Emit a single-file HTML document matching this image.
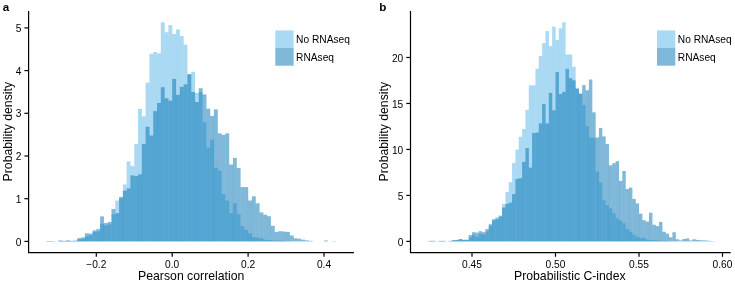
<!DOCTYPE html>
<html><head><meta charset="utf-8"><title>Histograms</title>
<style>html,body{margin:0;padding:0;background:#fff}body{width:735px;height:283px;overflow:hidden}</style></head>
<body>
<svg width="735" height="283" viewBox="0 0 735 283" style="will-change:transform;display:block;font-family:'Liberation Sans',sans-serif">
<rect width="735" height="283" fill="#fff"/>
<g fill="#56B4E9" fill-opacity="0.5">
<rect x="46.96" y="241.0" width="3.880" height="0.4"/>
<rect x="50.76" y="241.1" width="3.880" height="0.3"/>
<rect x="58.35" y="240.9" width="3.880" height="0.5"/>
<rect x="62.14" y="240.9" width="3.880" height="0.5"/>
<rect x="65.94" y="240.9" width="3.880" height="0.5"/>
<rect x="69.73" y="240.9" width="3.880" height="0.5"/>
<rect x="73.53" y="240.7" width="3.880" height="0.7"/>
<rect x="77.32" y="239.4" width="3.880" height="2.0"/>
<rect x="81.12" y="238.9" width="3.880" height="2.5"/>
<rect x="84.91" y="236.4" width="3.880" height="5.0"/>
<rect x="88.71" y="235.4" width="3.880" height="6.0"/>
<rect x="92.50" y="231.9" width="3.880" height="9.5"/>
<rect x="96.30" y="231.4" width="3.880" height="10.0"/>
<rect x="100.09" y="223.9" width="3.880" height="17.5"/>
<rect x="103.89" y="225.4" width="3.880" height="16.0"/>
<rect x="107.68" y="224.4" width="3.880" height="17.0"/>
<rect x="111.48" y="214.4" width="3.880" height="27.0"/>
<rect x="115.27" y="200.5" width="3.880" height="40.9"/>
<rect x="119.07" y="198.4" width="3.880" height="43.0"/>
<rect x="122.86" y="184.4" width="3.880" height="57.0"/>
<rect x="126.66" y="161.4" width="3.880" height="80.0"/>
<rect x="130.45" y="165.9" width="3.880" height="75.5"/>
<rect x="134.25" y="143.9" width="3.880" height="97.5"/>
<rect x="138.04" y="108.9" width="3.880" height="132.5"/>
<rect x="141.84" y="116.3" width="3.880" height="125.1"/>
<rect x="145.63" y="82.7" width="3.880" height="158.7"/>
<rect x="149.43" y="53.8" width="3.880" height="187.6"/>
<rect x="153.22" y="52.0" width="3.880" height="189.4"/>
<rect x="157.02" y="53.4" width="3.880" height="188.0"/>
<rect x="160.81" y="22.3" width="3.880" height="219.1"/>
<rect x="164.61" y="32.2" width="3.880" height="209.2"/>
<rect x="168.41" y="25.1" width="3.880" height="216.3"/>
<rect x="172.20" y="34.0" width="3.880" height="207.4"/>
<rect x="175.99" y="29.5" width="3.880" height="211.9"/>
<rect x="179.79" y="36.1" width="3.880" height="205.3"/>
<rect x="183.58" y="44.6" width="3.880" height="196.8"/>
<rect x="187.38" y="74.4" width="3.880" height="167.0"/>
<rect x="191.17" y="71.8" width="3.880" height="169.6"/>
<rect x="194.97" y="93.0" width="3.880" height="148.4"/>
<rect x="198.76" y="92.0" width="3.880" height="149.4"/>
<rect x="202.56" y="122.1" width="3.880" height="119.3"/>
<rect x="206.35" y="147.5" width="3.880" height="93.9"/>
<rect x="210.15" y="139.7" width="3.880" height="101.7"/>
<rect x="213.94" y="167.6" width="3.880" height="73.8"/>
<rect x="217.74" y="170.5" width="3.880" height="70.9"/>
<rect x="221.53" y="194.1" width="3.880" height="47.3"/>
<rect x="225.33" y="200.5" width="3.880" height="40.9"/>
<rect x="229.12" y="213.2" width="3.880" height="28.2"/>
<rect x="232.92" y="203.3" width="3.880" height="38.1"/>
<rect x="236.71" y="214.1" width="3.880" height="27.3"/>
<rect x="240.51" y="226.1" width="3.880" height="15.3"/>
<rect x="244.31" y="229.8" width="3.880" height="11.6"/>
<rect x="248.10" y="233.3" width="3.880" height="8.1"/>
<rect x="251.89" y="236.9" width="3.880" height="4.5"/>
<rect x="255.69" y="237.6" width="3.880" height="3.8"/>
<rect x="259.49" y="238.3" width="3.880" height="3.1"/>
<rect x="263.28" y="239.7" width="3.880" height="1.7"/>
<rect x="267.07" y="240.0" width="3.880" height="1.4"/>
<rect x="270.87" y="240.4" width="3.880" height="1.0"/>
<rect x="274.66" y="240.7" width="3.880" height="0.7"/>
<rect x="278.46" y="240.4" width="3.880" height="1.0"/>
<rect x="282.25" y="241.0" width="3.880" height="0.4"/>
<rect x="286.05" y="241.1" width="3.880" height="0.3"/>
</g>
<g fill="#0072B2" fill-opacity="0.5">
<rect x="46.96" y="241.0" width="3.880" height="0.4"/>
<rect x="50.76" y="241.1" width="3.880" height="0.3"/>
<rect x="58.35" y="240.5" width="3.880" height="0.9"/>
<rect x="62.14" y="240.9" width="3.880" height="0.5"/>
<rect x="65.94" y="240.4" width="3.880" height="1.0"/>
<rect x="69.73" y="240.9" width="3.880" height="0.5"/>
<rect x="73.53" y="240.7" width="3.880" height="0.7"/>
<rect x="77.32" y="238.1" width="3.880" height="3.3"/>
<rect x="81.12" y="237.4" width="3.880" height="4.0"/>
<rect x="84.91" y="233.3" width="3.880" height="8.1"/>
<rect x="88.71" y="233.6" width="3.880" height="7.8"/>
<rect x="92.50" y="230.4" width="3.880" height="11.0"/>
<rect x="96.30" y="229.1" width="3.880" height="12.3"/>
<rect x="100.09" y="216.4" width="3.880" height="25.0"/>
<rect x="103.89" y="223.1" width="3.880" height="18.3"/>
<rect x="107.68" y="222.0" width="3.880" height="19.4"/>
<rect x="111.48" y="209.0" width="3.880" height="32.4"/>
<rect x="115.27" y="213.2" width="3.880" height="28.2"/>
<rect x="119.07" y="196.9" width="3.880" height="44.5"/>
<rect x="122.86" y="190.7" width="3.880" height="50.7"/>
<rect x="126.66" y="188.4" width="3.880" height="53.0"/>
<rect x="130.45" y="175.4" width="3.880" height="66.0"/>
<rect x="134.25" y="176.1" width="3.880" height="65.3"/>
<rect x="138.04" y="174.4" width="3.880" height="67.0"/>
<rect x="141.84" y="143.9" width="3.880" height="97.5"/>
<rect x="145.63" y="126.7" width="3.880" height="114.7"/>
<rect x="149.43" y="135.5" width="3.880" height="105.9"/>
<rect x="153.22" y="111.1" width="3.880" height="130.3"/>
<rect x="157.02" y="103.0" width="3.880" height="138.4"/>
<rect x="160.81" y="87.2" width="3.880" height="154.2"/>
<rect x="164.61" y="98.3" width="3.880" height="143.1"/>
<rect x="168.41" y="100.7" width="3.880" height="140.7"/>
<rect x="172.20" y="78.9" width="3.880" height="162.5"/>
<rect x="175.99" y="94.8" width="3.880" height="146.6"/>
<rect x="179.79" y="86.8" width="3.880" height="154.6"/>
<rect x="183.58" y="84.4" width="3.880" height="157.0"/>
<rect x="187.38" y="74.2" width="3.880" height="167.2"/>
<rect x="191.17" y="92.0" width="3.880" height="149.4"/>
<rect x="194.97" y="102.1" width="3.880" height="139.3"/>
<rect x="198.76" y="88.2" width="3.880" height="153.2"/>
<rect x="202.56" y="94.4" width="3.880" height="147.0"/>
<rect x="206.35" y="108.7" width="3.880" height="132.7"/>
<rect x="210.15" y="115.9" width="3.880" height="125.5"/>
<rect x="213.94" y="109.4" width="3.880" height="132.0"/>
<rect x="217.74" y="133.3" width="3.880" height="108.1"/>
<rect x="221.53" y="134.8" width="3.880" height="106.6"/>
<rect x="225.33" y="133.3" width="3.880" height="108.1"/>
<rect x="229.12" y="164.5" width="3.880" height="76.9"/>
<rect x="232.92" y="157.9" width="3.880" height="83.5"/>
<rect x="236.71" y="167.9" width="3.880" height="73.5"/>
<rect x="240.51" y="187.1" width="3.880" height="54.3"/>
<rect x="244.31" y="187.1" width="3.880" height="54.3"/>
<rect x="248.10" y="200.5" width="3.880" height="40.9"/>
<rect x="251.89" y="196.3" width="3.880" height="45.1"/>
<rect x="255.69" y="203.3" width="3.880" height="38.1"/>
<rect x="259.49" y="212.4" width="3.880" height="29.0"/>
<rect x="263.28" y="214.7" width="3.880" height="26.7"/>
<rect x="267.07" y="216.2" width="3.880" height="25.2"/>
<rect x="270.87" y="225.8" width="3.880" height="15.6"/>
<rect x="274.66" y="231.9" width="3.880" height="9.5"/>
<rect x="278.46" y="231.2" width="3.880" height="10.2"/>
<rect x="282.25" y="231.6" width="3.880" height="9.8"/>
<rect x="286.05" y="231.9" width="3.880" height="9.5"/>
<rect x="289.84" y="235.5" width="3.880" height="5.9"/>
<rect x="293.64" y="238.3" width="3.880" height="3.1"/>
<rect x="297.44" y="238.7" width="3.880" height="2.7"/>
<rect x="301.23" y="239.7" width="3.880" height="1.7"/>
<rect x="305.02" y="240.4" width="3.880" height="1.0"/>
<rect x="308.82" y="240.8" width="3.880" height="0.6"/>
<rect x="324.00" y="240.5" width="3.880" height="0.9"/>
<rect x="331.59" y="241.1" width="3.880" height="0.3"/>
</g>
<g fill="#56B4E9" fill-opacity="0.5">
<rect x="428.58" y="240.9" width="3.425" height="0.5"/>
<rect x="431.92" y="240.9" width="3.425" height="0.5"/>
<rect x="438.60" y="240.9" width="3.425" height="0.5"/>
<rect x="441.94" y="240.9" width="3.425" height="0.5"/>
<rect x="448.62" y="240.9" width="3.425" height="0.5"/>
<rect x="451.96" y="240.4" width="3.425" height="1.0"/>
<rect x="455.30" y="240.2" width="3.425" height="1.2"/>
<rect x="458.64" y="239.4" width="3.425" height="2.0"/>
<rect x="461.98" y="240.0" width="3.425" height="1.4"/>
<rect x="465.32" y="240.0" width="3.425" height="1.4"/>
<rect x="468.66" y="237.4" width="3.425" height="4.0"/>
<rect x="472.00" y="234.9" width="3.425" height="6.5"/>
<rect x="475.34" y="236.9" width="3.425" height="4.5"/>
<rect x="478.68" y="233.9" width="3.425" height="7.5"/>
<rect x="482.02" y="234.4" width="3.425" height="7.0"/>
<rect x="485.36" y="231.4" width="3.425" height="10.0"/>
<rect x="488.70" y="225.9" width="3.425" height="15.5"/>
<rect x="492.04" y="220.9" width="3.425" height="20.5"/>
<rect x="495.38" y="217.1" width="3.425" height="24.3"/>
<rect x="498.72" y="215.4" width="3.425" height="26.0"/>
<rect x="502.06" y="204.0" width="3.425" height="37.4"/>
<rect x="505.40" y="191.9" width="3.425" height="49.5"/>
<rect x="508.74" y="182.1" width="3.425" height="59.3"/>
<rect x="512.08" y="162.9" width="3.425" height="78.5"/>
<rect x="515.42" y="149.7" width="3.425" height="91.7"/>
<rect x="518.76" y="136.8" width="3.425" height="104.6"/>
<rect x="522.10" y="129.0" width="3.425" height="112.4"/>
<rect x="525.44" y="109.9" width="3.425" height="131.5"/>
<rect x="528.78" y="85.3" width="3.425" height="156.1"/>
<rect x="532.12" y="85.3" width="3.425" height="156.1"/>
<rect x="535.46" y="68.7" width="3.425" height="172.7"/>
<rect x="538.80" y="55.9" width="3.425" height="185.5"/>
<rect x="542.14" y="43.1" width="3.425" height="198.3"/>
<rect x="545.48" y="31.1" width="3.425" height="210.3"/>
<rect x="548.82" y="46.1" width="3.425" height="195.3"/>
<rect x="552.16" y="26.6" width="3.425" height="214.8"/>
<rect x="555.50" y="39.9" width="3.425" height="201.5"/>
<rect x="558.84" y="28.3" width="3.425" height="213.1"/>
<rect x="562.18" y="22.3" width="3.425" height="219.1"/>
<rect x="565.52" y="54.5" width="3.425" height="186.9"/>
<rect x="568.86" y="54.5" width="3.425" height="186.9"/>
<rect x="572.20" y="66.7" width="3.425" height="174.7"/>
<rect x="575.54" y="88.8" width="3.425" height="152.6"/>
<rect x="578.88" y="93.7" width="3.425" height="147.7"/>
<rect x="582.22" y="104.9" width="3.425" height="136.5"/>
<rect x="585.56" y="126.1" width="3.425" height="115.3"/>
<rect x="588.90" y="137.5" width="3.425" height="103.9"/>
<rect x="592.24" y="137.9" width="3.425" height="103.5"/>
<rect x="595.58" y="171.6" width="3.425" height="69.8"/>
<rect x="598.92" y="182.6" width="3.425" height="58.8"/>
<rect x="602.26" y="200.3" width="3.425" height="41.1"/>
<rect x="605.60" y="205.1" width="3.425" height="36.3"/>
<rect x="608.94" y="208.3" width="3.425" height="33.1"/>
<rect x="612.28" y="213.4" width="3.425" height="28.0"/>
<rect x="615.62" y="218.4" width="3.425" height="23.0"/>
<rect x="618.96" y="220.5" width="3.425" height="20.9"/>
<rect x="622.30" y="223.3" width="3.425" height="18.1"/>
<rect x="625.64" y="229.0" width="3.425" height="12.4"/>
<rect x="628.98" y="231.8" width="3.425" height="9.6"/>
<rect x="632.32" y="234.6" width="3.425" height="6.8"/>
<rect x="635.66" y="236.7" width="3.425" height="4.7"/>
<rect x="639.00" y="238.1" width="3.425" height="3.3"/>
<rect x="642.34" y="237.7" width="3.425" height="3.7"/>
<rect x="645.68" y="239.6" width="3.425" height="1.8"/>
<rect x="649.02" y="239.9" width="3.425" height="1.5"/>
<rect x="652.36" y="240.2" width="3.425" height="1.2"/>
<rect x="655.70" y="240.4" width="3.425" height="1.0"/>
<rect x="659.04" y="240.7" width="3.425" height="0.7"/>
<rect x="662.38" y="240.9" width="3.425" height="0.5"/>
<rect x="665.72" y="241.1" width="3.425" height="0.3"/>
</g>
<g fill="#0072B2" fill-opacity="0.5">
<rect x="428.58" y="240.9" width="3.425" height="0.5"/>
<rect x="431.92" y="240.9" width="3.425" height="0.5"/>
<rect x="438.60" y="240.9" width="3.425" height="0.5"/>
<rect x="441.94" y="240.9" width="3.425" height="0.5"/>
<rect x="448.62" y="240.9" width="3.425" height="0.5"/>
<rect x="451.96" y="240.1" width="3.425" height="1.3"/>
<rect x="455.30" y="239.9" width="3.425" height="1.5"/>
<rect x="458.64" y="239.0" width="3.425" height="2.4"/>
<rect x="461.98" y="239.7" width="3.425" height="1.7"/>
<rect x="465.32" y="239.7" width="3.425" height="1.7"/>
<rect x="468.66" y="235.0" width="3.425" height="6.4"/>
<rect x="472.00" y="232.2" width="3.425" height="9.2"/>
<rect x="475.34" y="232.6" width="3.425" height="8.8"/>
<rect x="478.68" y="231.2" width="3.425" height="10.2"/>
<rect x="482.02" y="232.2" width="3.425" height="9.2"/>
<rect x="485.36" y="229.1" width="3.425" height="12.3"/>
<rect x="488.70" y="224.2" width="3.425" height="17.2"/>
<rect x="492.04" y="219.2" width="3.425" height="22.2"/>
<rect x="495.38" y="218.9" width="3.425" height="22.5"/>
<rect x="498.72" y="216.4" width="3.425" height="25.0"/>
<rect x="502.06" y="207.5" width="3.425" height="33.9"/>
<rect x="505.40" y="203.9" width="3.425" height="37.5"/>
<rect x="508.74" y="202.6" width="3.425" height="38.8"/>
<rect x="512.08" y="194.1" width="3.425" height="47.3"/>
<rect x="515.42" y="178.9" width="3.425" height="62.5"/>
<rect x="518.76" y="178.2" width="3.425" height="63.2"/>
<rect x="522.10" y="161.9" width="3.425" height="79.5"/>
<rect x="525.44" y="148.1" width="3.425" height="93.3"/>
<rect x="528.78" y="167.6" width="3.425" height="73.8"/>
<rect x="532.12" y="133.0" width="3.425" height="108.4"/>
<rect x="535.46" y="132.6" width="3.425" height="108.8"/>
<rect x="538.80" y="123.4" width="3.425" height="118.0"/>
<rect x="542.14" y="103.9" width="3.425" height="137.5"/>
<rect x="545.48" y="123.4" width="3.425" height="118.0"/>
<rect x="548.82" y="92.9" width="3.425" height="148.5"/>
<rect x="552.16" y="110.3" width="3.425" height="131.1"/>
<rect x="555.50" y="72.1" width="3.425" height="169.3"/>
<rect x="558.84" y="94.0" width="3.425" height="147.4"/>
<rect x="562.18" y="91.9" width="3.425" height="149.5"/>
<rect x="565.52" y="68.9" width="3.425" height="172.5"/>
<rect x="568.86" y="78.2" width="3.425" height="163.2"/>
<rect x="572.20" y="80.3" width="3.425" height="161.1"/>
<rect x="575.54" y="88.4" width="3.425" height="153.0"/>
<rect x="578.88" y="93.7" width="3.425" height="147.7"/>
<rect x="582.22" y="85.1" width="3.425" height="156.3"/>
<rect x="585.56" y="90.2" width="3.425" height="151.2"/>
<rect x="588.90" y="79.5" width="3.425" height="161.9"/>
<rect x="592.24" y="112.3" width="3.425" height="129.1"/>
<rect x="595.58" y="137.5" width="3.425" height="103.9"/>
<rect x="598.92" y="127.9" width="3.425" height="113.5"/>
<rect x="602.26" y="136.4" width="3.425" height="105.0"/>
<rect x="605.60" y="144.1" width="3.425" height="97.3"/>
<rect x="608.94" y="165.3" width="3.425" height="76.1"/>
<rect x="612.28" y="163.2" width="3.425" height="78.2"/>
<rect x="615.62" y="161.1" width="3.425" height="80.3"/>
<rect x="618.96" y="180.9" width="3.425" height="60.5"/>
<rect x="622.30" y="171.0" width="3.425" height="70.4"/>
<rect x="625.64" y="189.0" width="3.425" height="52.4"/>
<rect x="628.98" y="187.6" width="3.425" height="53.8"/>
<rect x="632.32" y="198.9" width="3.425" height="42.5"/>
<rect x="635.66" y="203.4" width="3.425" height="38.0"/>
<rect x="639.00" y="213.7" width="3.425" height="27.7"/>
<rect x="642.34" y="220.2" width="3.425" height="21.2"/>
<rect x="645.68" y="221.6" width="3.425" height="19.8"/>
<rect x="649.02" y="212.7" width="3.425" height="28.7"/>
<rect x="652.36" y="224.7" width="3.425" height="16.7"/>
<rect x="655.70" y="226.1" width="3.425" height="15.3"/>
<rect x="659.04" y="221.9" width="3.425" height="19.5"/>
<rect x="662.38" y="231.8" width="3.425" height="9.6"/>
<rect x="665.72" y="233.6" width="3.425" height="7.8"/>
<rect x="669.06" y="237.3" width="3.425" height="4.1"/>
<rect x="672.40" y="232.3" width="3.425" height="9.1"/>
<rect x="675.74" y="239.3" width="3.425" height="2.1"/>
<rect x="679.08" y="240.4" width="3.425" height="1.0"/>
<rect x="682.42" y="239.0" width="3.425" height="2.4"/>
<rect x="685.76" y="238.4" width="3.425" height="3.0"/>
<rect x="689.10" y="240.4" width="3.425" height="1.0"/>
<rect x="692.44" y="239.3" width="3.425" height="2.1"/>
<rect x="695.78" y="239.9" width="3.425" height="1.5"/>
<rect x="699.12" y="240.2" width="3.425" height="1.2"/>
<rect x="702.46" y="240.4" width="3.425" height="1.0"/>
<rect x="705.80" y="240.6" width="3.425" height="0.8"/>
<rect x="709.14" y="240.9" width="3.425" height="0.5"/>
<rect x="712.48" y="241.2" width="3.425" height="0.2"/>
</g>
<path d="M28.6 11V252.6H354" fill="none" stroke="#000" stroke-width="1.2"/>
<path d="M24.400000000000002 241.4H28.6" stroke="#000" stroke-width="1.2"/>
<text x="21.400000000000002" y="245.50" font-size="10.2" text-anchor="end" fill="#000">0</text>
<path d="M24.400000000000002 198.7H28.6" stroke="#000" stroke-width="1.2"/>
<text x="21.400000000000002" y="202.80" font-size="10.2" text-anchor="end" fill="#000">1</text>
<path d="M24.400000000000002 156.0H28.6" stroke="#000" stroke-width="1.2"/>
<text x="21.400000000000002" y="160.10" font-size="10.2" text-anchor="end" fill="#000">2</text>
<path d="M24.400000000000002 113.29999999999998H28.6" stroke="#000" stroke-width="1.2"/>
<text x="21.400000000000002" y="117.40" font-size="10.2" text-anchor="end" fill="#000">3</text>
<path d="M24.400000000000002 70.6H28.6" stroke="#000" stroke-width="1.2"/>
<text x="21.400000000000002" y="74.70" font-size="10.2" text-anchor="end" fill="#000">4</text>
<path d="M24.400000000000002 27.900000000000006H28.6" stroke="#000" stroke-width="1.2"/>
<text x="21.400000000000002" y="32.00" font-size="10.2" text-anchor="end" fill="#000">5</text>
<path d="M96.3 252.6V256.8" stroke="#000" stroke-width="1.2"/>
<text x="96.3" y="267.70" font-size="10.2" text-anchor="middle" fill="#000">−0.2</text>
<path d="M172.2 252.6V256.8" stroke="#000" stroke-width="1.2"/>
<text x="172.2" y="267.70" font-size="10.2" text-anchor="middle" fill="#000">0.0</text>
<path d="M248.1 252.6V256.8" stroke="#000" stroke-width="1.2"/>
<text x="248.1" y="267.70" font-size="10.2" text-anchor="middle" fill="#000">0.2</text>
<path d="M324 252.6V256.8" stroke="#000" stroke-width="1.2"/>
<text x="324" y="267.70" font-size="10.2" text-anchor="middle" fill="#000">0.4</text>
<path d="M410.5 11V252.6H730.7" fill="none" stroke="#000" stroke-width="1.2"/>
<path d="M406.3 241.4H410.5" stroke="#000" stroke-width="1.2"/>
<text x="403.3" y="245.50" font-size="10.2" text-anchor="end" fill="#000">0</text>
<path d="M406.3 195.42000000000002H410.5" stroke="#000" stroke-width="1.2"/>
<text x="403.3" y="199.52" font-size="10.2" text-anchor="end" fill="#000">5</text>
<path d="M406.3 149.44H410.5" stroke="#000" stroke-width="1.2"/>
<text x="403.3" y="153.54" font-size="10.2" text-anchor="end" fill="#000">10</text>
<path d="M406.3 103.46000000000001H410.5" stroke="#000" stroke-width="1.2"/>
<text x="403.3" y="107.56" font-size="10.2" text-anchor="end" fill="#000">15</text>
<path d="M406.3 57.48000000000002H410.5" stroke="#000" stroke-width="1.2"/>
<text x="403.3" y="61.58" font-size="10.2" text-anchor="end" fill="#000">20</text>
<path d="M472 252.6V256.8" stroke="#000" stroke-width="1.2"/>
<text x="472" y="267.70" font-size="10.2" text-anchor="middle" fill="#000">0.45</text>
<path d="M555.5 252.6V256.8" stroke="#000" stroke-width="1.2"/>
<text x="555.5" y="267.70" font-size="10.2" text-anchor="middle" fill="#000">0.50</text>
<path d="M639 252.6V256.8" stroke="#000" stroke-width="1.2"/>
<text x="639" y="267.70" font-size="10.2" text-anchor="middle" fill="#000">0.55</text>
<path d="M722.5 252.6V256.8" stroke="#000" stroke-width="1.2"/>
<text x="722.5" y="267.70" font-size="10.2" text-anchor="middle" fill="#000">0.60</text>
<text x="191.2" y="279.5" font-size="12.25" text-anchor="middle" fill="#000">Pearson correlation</text>
<text x="569.8" y="279.5" font-size="12.25" text-anchor="middle" fill="#000">Probabilistic C-index</text>
<text transform="translate(11.6 131.7) rotate(-90)" font-size="12.25" text-anchor="middle" fill="#000">Probability density</text>
<text transform="translate(388 131.7) rotate(-90)" font-size="12.25" text-anchor="middle" fill="#000">Probability density</text>
<text x="2.8" y="10.7" font-size="11.6" font-weight="bold" fill="#000">a</text>
<text x="379.2" y="10.9" font-size="11.6" font-weight="bold" fill="#000">b</text>
<rect x="275.3" y="30.4" width="18.3" height="17.5" fill="#56B4E9" fill-opacity="0.5"/>
<rect x="275.3" y="47.9" width="18.3" height="17.8" fill="#0072B2" fill-opacity="0.5"/>
<text x="296.1" y="43.1" font-size="10.2" fill="#000">No RNAseq</text>
<text x="296.1" y="60.9" font-size="10.2" fill="#000">RNAseq</text>
<rect x="657" y="30.4" width="18.3" height="17.5" fill="#56B4E9" fill-opacity="0.5"/>
<rect x="657" y="47.9" width="18.3" height="17.8" fill="#0072B2" fill-opacity="0.5"/>
<text x="677.8" y="43.1" font-size="10.2" fill="#000">No RNAseq</text>
<text x="677.8" y="60.9" font-size="10.2" fill="#000">RNAseq</text>
</svg>
</body></html>
